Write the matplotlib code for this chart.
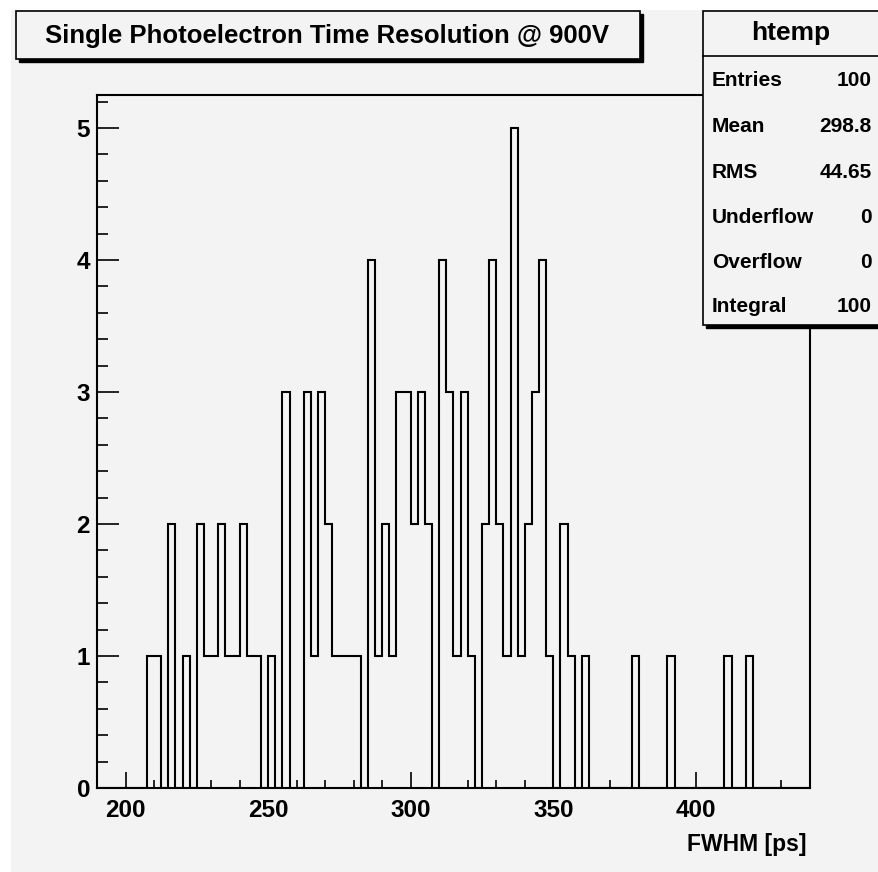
import numpy as np
import matplotlib.pyplot as plt
from matplotlib.patches import Rectangle
from matplotlib.ticker import MultipleLocator

# histogram "htemp": 100 bins from 190 to 440 ps
bin_lo, bin_hi, n_bins = 190.0, 440.0, 100
counts = [0, 0, 0, 0, 0, 0, 0, 1, 1, 0,
          2, 0, 1, 0, 2, 1, 1, 2, 1, 1,
          2, 1, 1, 0, 1, 0, 3, 0, 0, 3,
          1, 3, 2, 1, 1, 1, 1, 0, 4, 1,
          2, 1, 3, 3, 2, 3, 2, 0, 4, 3,
          1, 3, 1, 0, 2, 4, 2, 1, 5, 1,
          2, 3, 4, 1, 0, 2, 1, 0, 1, 0,
          0, 0, 0, 0, 0, 1, 0, 0, 0, 0,
          1, 0, 0, 0, 0, 0, 0, 0, 1, 0,
          0, 1, 0, 0, 0, 0, 0, 0, 0, 0]
title = "Single Photoelectron Time Resolution @ 900V"
xlabel = "FWHM [ps]"
stat_names = ["Entries", "Mean", "RMS", "Underflow", "Overflow", "Integral"]
stat_values = ["100", "298.8", "44.65", "0", "0", "100"]

W, H = 879, 872
bg = "#f3f3f3"
font = ["Liberation Sans", "DejaVu Sans"]


def fx(px):
    return px / W


def fy(py):
    return 1 - py / H


def box(x0, y0, x1, y1, **kw):
    # rectangle given in picture pixels (top-left origin)
    r = Rectangle((fx(x0), fy(y1)), fx(x1) - fx(x0), fy(y0) - fy(y1),
                  transform=fig.transFigure, **kw)
    fig.patches.append(r)


fig = plt.figure(figsize=(W / 100, H / 100), dpi=100, facecolor="white")
box(11, 10, W + 5, H + 5, facecolor=bg, edgecolor="none", zorder=-5)

ax = fig.add_axes([fx(97), fy(788), fx(810) - fx(97), fy(95) - fy(788)])
ax.set_facecolor(bg)

edges = np.linspace(bin_lo, bin_hi, n_bins + 1)
ax.stairs(counts, edges, baseline=0, color="black", linewidth=1.5)

ax.set_xlim(bin_lo, bin_hi)
ax.set_ylim(0, max(counts) * 1.05)
for s in ax.spines.values():
    s.set_linewidth(1.5)

ax.xaxis.set_major_locator(MultipleLocator(50))
ax.xaxis.set_minor_locator(MultipleLocator(10))
ax.yaxis.set_major_locator(MultipleLocator(1))
ax.yaxis.set_minor_locator(MultipleLocator(0.2))
ax.tick_params(axis="x", which="major", direction="in", length=11.5, width=1.2, pad=8)
ax.tick_params(axis="x", which="minor", direction="in", length=5.8, width=1.2)
ax.tick_params(axis="y", which="major", direction="in", length=15.8, width=1.2, pad=5)
ax.tick_params(axis="y", which="minor", direction="in", length=7.9, width=1.2)
for lab in ax.get_xticklabels() + ax.get_yticklabels():
    lab.set_family(font)
    lab.set_fontweight("bold")
    lab.set_fontsize(17.5)

fig.text(fx(807), fy(844), xlabel, ha="right", va="center",
         family=font, fontweight="bold", fontsize=16.5)

# title box with shadow
box(19, 14, 643, 62, facecolor="black", edgecolor="black", zorder=1)
box(16, 11, 640, 59, facecolor=bg, edgecolor="black", linewidth=1.2, zorder=2)
fig.text(fx(327), fy(36), title, ha="center", va="center",
         family=font, fontweight="bold", fontsize=18.5, zorder=3)

# stats box
box(706, 14, W + 10, 328, facecolor="black", edgecolor="black", zorder=1)
box(703, 11, W + 10, 325, facecolor=bg, edgecolor="black", linewidth=1.2, zorder=2)
fig.add_artist(plt.Line2D([fx(703), 1], [fy(56), fy(56)],
                          transform=fig.transFigure, color="black",
                          linewidth=1.2, zorder=3))
fig.text(fx(791), fy(33), "htemp", ha="center", va="center",
         family=font, fontweight="bold", fontsize=19, zorder=3)
row_y = [81, 127, 172, 217, 262, 306]
for name, val, y in zip(stat_names, stat_values, row_y):
    fig.text(fx(712), fy(y), name, ha="left", va="center",
             family=font, fontweight="bold", fontsize=15, zorder=3)
    fig.text(fx(872), fy(y), val, ha="right", va="center",
             family=font, fontweight="bold", fontsize=15, zorder=3)

fig.savefig("out.png", dpi=100, facecolor="white")
